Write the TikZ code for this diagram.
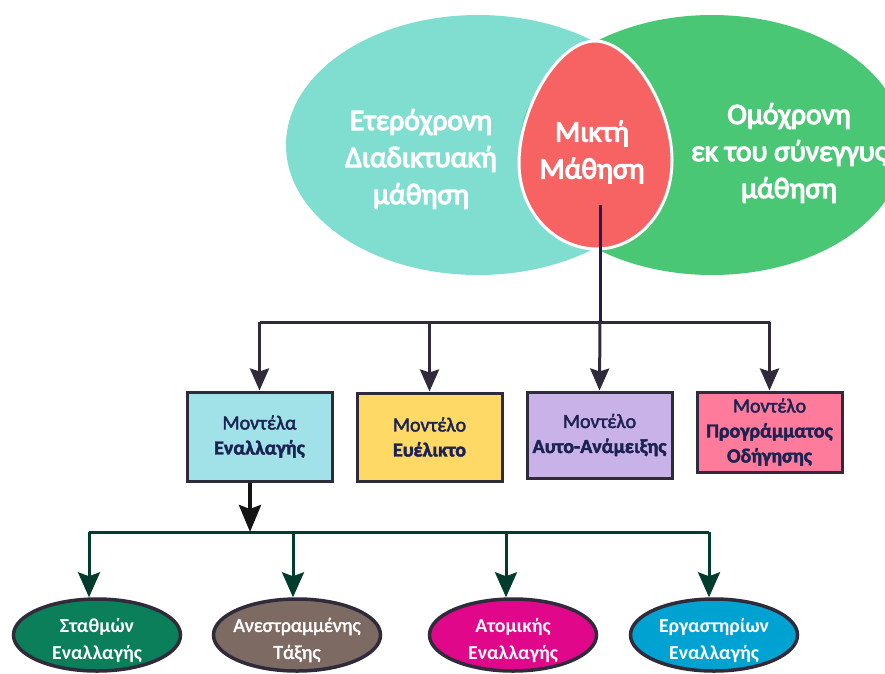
\documentclass[tikz,border=0pt]{standalone}
\usepackage{fontspec}
\setmainfont{Carlito}
\newfontfamily\medfont[FakeBold=4]{Carlito}
\newfontfamily\lightmed[FakeBold=2.2]{Carlito}
\usetikzlibrary{arrows.meta,shapes.geometric}
\definecolor{tealc}{HTML}{80DED0}
\definecolor{greenc}{HTML}{4AC775}
\definecolor{eggc}{HTML}{F76262}
\definecolor{navyline}{HTML}{231B57}
\definecolor{grayline}{HTML}{2F2B3A}
\definecolor{boxtext}{HTML}{1B2352}
\definecolor{boxa}{HTML}{A0E2E8}
\definecolor{boxb}{HTML}{FFD966}
\definecolor{boxc}{HTML}{C9B2E8}
\definecolor{boxd}{HTML}{FF7B9C}
\definecolor{darkgreen}{HTML}{003D2E}
\definecolor{ella}{HTML}{0B7E5A}
\definecolor{ellb}{HTML}{7D6B63}
\definecolor{ellc}{HTML}{E0078A}
\definecolor{elld}{HTML}{00A2D2}
\tikzset{
  bigtext/.style={text=white, align=center, font=\medfont\fontsize{29.5}{37}\selectfont},
  modelbox/.style={draw=grayline, line width=3pt, rectangle, minimum width=145pt, inner sep=0pt, text=boxtext, align=center, font=\lightmed\fontsize{20}{25}\selectfont},
  subell/.style={draw=grayline, line width=3.5pt, ellipse, minimum width=167pt, minimum height=72pt, inner sep=0pt},
  elltext/.style={text=white, align=center, inner sep=0pt, yshift=-5pt, font=\fontsize{19.8}{27}\selectfont},
  toparrow/.style={draw=grayline, line width=3pt, -{Stealth[length=22pt,width=19pt,inset=3pt]}},
  greenarrow/.style={draw=darkgreen, line width=3pt, -{Stealth[length=25pt,width=22pt,inset=4pt]}},
}
\begin{document}
\begin{tikzpicture}[x=1pt,y=-1pt]
\clip (0,0) rectangle (885,673);
\fill[white] (0,0) rectangle (885,673);
% Venn
\fill[tealc] (478,145) ellipse [x radius=192, y radius=130];
\fill[greenc] (712,145) ellipse [x radius=192, y radius=130];
\filldraw[fill=eggc, draw=white, line width=3pt]
  (595,41) .. controls (632,41) and (672,108) .. (672,160)
  .. controls (672,213) and (636,249) .. (597,249)
  .. controls (556,249) and (519,213) .. (519,163)
  .. controls (519,108) and (558,41) .. (595,41) -- cycle;
\node[bigtext] (async) at (421,159) {Ετερόχρονη\\Διαδικτυακή\\μάθηση};
\node[bigtext] (blend) at (592,152) {Μικτή\\Μάθηση};
\node[bigtext] (sync) at (789,153) {Ομόχρονη\\εκ του σύνεγγυς\\μάθηση};
\coordinate (eggs) at (600,205);
\coordinate (hub) at (600,322);
% boxes
\node[modelbox, fill=boxa, minimum height=89pt] (b1) at (259.5,436.5) {Μοντέλα\\\textbf{Εναλλαγής}};
\node[modelbox, fill=boxb, minimum height=88pt] (b2) at (429.5,437) {Μοντέλο\\\textbf{Ευέλικτο}};
\node[modelbox, fill=boxc, minimum height=86pt] (b3) at (599.5,435) {Μοντέλο\\\textbf{Αυτο-Ανάμειξης}};
\node[modelbox, fill=boxd, minimum height=80pt] (b4) at (769.5,432) {Μοντέλο\\\textbf{Προγράμματος}\\\textbf{Οδήγησης}};
% top connectors
\draw[draw=grayline, line width=3pt] (b1.north |- hub) -- (b4.north |- hub);
\draw[toparrow] (b1.north |- hub) -- (b1.north);
\draw[toparrow] (b2.north |- hub) -- (b2.north);
\draw[toparrow] (b4.north |- hub) -- (b4.north);
\draw[navyline, line width=3pt] (eggs) -- (hub);
\draw[toparrow] (hub) -- (b3.north);
% bottom ellipses
\node[subell, fill=ella] (e1) at (97,635) {};
\node[subell, fill=ellb] (e2) at (297,635) {};
\node[subell, fill=ellc] (e3) at (513,635) {};
\node[subell, fill=elld] (e4) at (714,635) {};
\node[elltext] (t1) at (e1.center) {\textbf{Σταθμών}\\\textbf{Εναλλαγής}};
\node[elltext, font=\lightmed\fontsize{19.8}{27}\selectfont] (t2) at (e2.center) {Ανεστραμμένης\\Τάξης};
\node[elltext] (t3) at (e3.center) {\textbf{Ατομικής}\\\textbf{Εναλλαγής}};
\node[elltext] (t4) at (e4.center) {\textbf{Εργαστηρίων}\\\textbf{Εναλλαγής}};
\coordinate (bhub) at (250,532);
\coordinate (d1) at (89,532);
\coordinate (d2) at (293,532);
\coordinate (d3) at (506,532);
\coordinate (d4) at (709,532);
\draw[darkgreen, line width=3pt] (d1) -- (d4);
\draw[greenarrow] (d1) -- (d1 |- e1.north);
\draw[greenarrow] (d2) -- (d2 |- e2.north);
\draw[greenarrow] (d3) -- (d3 |- e3.north);
\draw[greenarrow] (d4) -- (d4 |- e4.north);
\draw[black!92, line width=4pt, -{Stealth[length=27pt,width=22pt,inset=4pt]}] (b1.south -| bhub) -- (bhub);
\end{tikzpicture}
\end{document}
